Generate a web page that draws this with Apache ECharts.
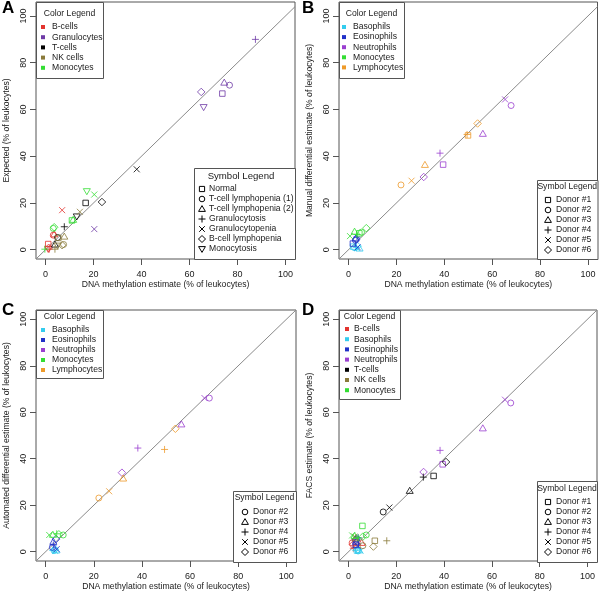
<!DOCTYPE html>
<html><head><meta charset="utf-8">
<script src="https://cdn.jsdelivr.net/npm/echarts@6/dist/echarts.min.js"></script>
<style>html,body{margin:0;padding:0;background:#fff}#c{width:600px;height:592px}</style>
</head><body><div id="c"></div><script>
const FONT = '"Liberation Sans", Arial, Helvetica, sans-serif';
const TICKS = [0, 20, 40, 60, 80, 100];
const DIAG = [-4, 104];
const COLORS = {
  'B-cells': '#E3342F', 'Granulocytes': '#6E3AA6', 'T-cells': '#000000', 'NK cells': '#8A7A3A',
  'Monocytes': '#33DD33', 'Basophils': '#33CCEE', 'Eosinophils': '#2030C8', 'Neutrophils': '#9A3FD0',
  'Lymphocytes': '#EE9A2A'
};

// ---------- Panel A ----------
const A_samples = ['Normal', 'T-cell lymphopenia (1)', 'T-cell lymphopenia (2)', 'Granulocytosis', 'Granulocytopenia', 'B-cell lymphopenia', 'Monocytosis'];
const A_shapes = ['square', 'circle', 'triangle', 'plus', 'cross', 'diamond', 'invtri'];
const A_cells = ['B-cells', 'Granulocytes', 'T-cells', 'NK cells', 'Monocytes'];
const A_Bcells = [[1.1, 2.4], [3.2, 6.2], [3.6, 6.8], [1.5, 0.2], [6.9, 16.9], [1.3, 0.8], [1.1, 0.1]];
const A_Granulocytes = [[73.7, 66.8], [76.7, 70.4], [74.5, 71.7], [87.5, 90.0], [20.3, 8.8], [64.9, 67.5], [65.9, 60.8]];
const A_Tcells = [[16.7, 20.0], [5.0, 5.2], [3.9, 2.4], [7.8, 9.8], [38.0, 34.4], [23.5, 20.4], [13.0, 14.0]];
const A_NKcells = [[5.3, 5.0], [7.5, 2.2], [7.8, 5.8], [3.9, 0.2], [14.3, 16.2], [6.9, 1.9], [5.0, 1.5]];
const A_Monocytes = [[11.0, 12.5], [3.2, 9.1], [11.5, 13.0], [-0.3, 0.2], [20.3, 23.6], [3.6, 9.6], [17.2, 24.8]];

// ---------- Panel B ----------
const B_samples = ['Donor #1', 'Donor #2', 'Donor #3', 'Donor #4', 'Donor #5', 'Donor #6'];
const B_shapes = ['square', 'circle', 'triangle', 'plus', 'cross', 'diamond'];
const B_cells = ['Basophils', 'Eosinophils', 'Neutrophils', 'Monocytes', 'Lymphocytes'];
const B_Basophils = [[1.9, 1.3], [2.5, 0.8], [4.6, 0.7], [3.2, 0.9], [3.5, 0.7], [3.8, 1.5]];
const B_Eosinophils = [[1.8, 2.6], [2.9, 4.0], [3.0, 5.0], [3.5, 5.4], [3.8, 1.0], [3.2, 4.5]];
const B_Neutrophils = [[39.5, 36.4], [67.9, 61.7], [56.1, 49.8], [38.2, 41.3], [65.4, 64.3], [31.4, 31.1]];
const B_Monocytes = [[4.5, 7.0], [5.4, 7.5], [2.5, 7.9], [3.5, 6.5], [0.6, 5.8], [7.4, 9.2]];
const B_Lymphocytes = [[49.9, 48.9], [21.9, 27.7], [31.9, 36.5], [49.5, 49.3], [26.3, 29.5], [53.9, 54.0]];

// ---------- Panel C ----------
const C_samples = ['Donor #2', 'Donor #3', 'Donor #4', 'Donor #5', 'Donor #6'];
const C_shapes = ['circle', 'triangle', 'plus', 'cross', 'diamond'];
const C_cells = ['Basophils', 'Eosinophils', 'Neutrophils', 'Monocytes', 'Lymphocytes'];
const C_Basophils = [[3.5, 0.5], [4.5, 0.8], [3.0, 0.5], [4.0, 0.3], [3.8, 1.0]];
const C_Eosinophils = [[2.8, 1.9], [3.2, 4.5], [3.2, 2.9], [4.6, 1.1], [4.3, 5.4]];
const C_Neutrophils = [[68.0, 66.1], [56.4, 55.0], [38.3, 44.6], [66.0, 66.1], [31.7, 34.0]];
const C_Monocytes = [[7.3, 7.2], [3.0, 7.5], [4.6, 7.7], [1.5, 7.2], [5.5, 7.5]];
const C_Lymphocytes = [[22.1, 23.1], [32.2, 31.7], [49.4, 44.0], [26.4, 26.0], [53.9, 52.9]];

// ---------- Panel D ----------
const D_samples = ['Donor #1', 'Donor #2', 'Donor #3', 'Donor #4', 'Donor #5', 'Donor #6'];
const D_shapes = ['square', 'circle', 'triangle', 'plus', 'cross', 'diamond'];
const D_cells = ['B-cells', 'Basophils', 'Eosinophils', 'Neutrophils', 'T-cells', 'NK cells', 'Monocytes'];
const D_Bcells = [[3.0, 4.0], [1.5, 3.8], [5.5, 4.0], [2.0, 1.5], [4.0, 2.0], [1.8, 3.0]];
const D_Basophils = [[3.5, 0.5], [4.0, 0.3], [4.5, 0.8], [3.0, 0.6], [5.0, 0.4], [3.8, 1.0]];
const D_Eosinophils = [[3.0, 3.0], [3.5, 5.5], [3.2, 4.5], [4.0, 6.0], [3.8, 2.5], [3.0, 5.0]];
const D_Neutrophils = [[39.4, 37.6], [67.9, 64.0], [56.2, 53.3], [38.3, 43.6], [65.5, 65.4], [31.4, 34.3]];
const D_Tcells = [[35.6, 32.6], [14.5, 17.1], [25.6, 26.4], [31.3, 32.1], [17.1, 19.0], [40.8, 38.6]];
const D_NKcells = [[11.0, 4.7], [6.0, 2.6], [3.0, 6.0], [16.0, 4.7], [2.5, 6.5], [10.4, 2.2]];
const D_Monocytes = [[5.8, 11.1], [7.4, 7.2], [2.5, 7.0], [4.0, 6.0], [1.5, 7.0], [6.0, 6.5]];

const X_NAME = 'DNA methylation estimate (% of leukocytes)';

const panels = [
  { letter: 'A', lx: 2, ly: 0, grid: { left: 36, top: 2, width: 259, height: 257 }, yMax: 106,
    yName: 'Expected (% of leukocytes)', xName: X_NAME,
    cells: A_cells, shapes: A_shapes, samples: A_samples,
    values: [A_Bcells, A_Granulocytes, A_Tcells, A_NKcells, A_Monocytes],
    cl: { x: 36, y: 2, w: 67, h: 76, ty: 14, iy: 27, dy: 10.2, mx: 43, tx: 52 },
    sl: { x: 194, y: 168, w: 101, h: 91, ty: 176, tcx: 241, tfs: 9.6, iy: 189, dy: 10, mx: 202, tx: 209 } },
  { letter: 'B', lx: 302, ly: 0, grid: { left: 339, top: 2, width: 258.5, height: 257 }, yMax: 106,
    yName: 'Manual differential estimate (% of leukocytes)', xName: X_NAME,
    cells: B_cells, shapes: B_shapes, samples: B_samples,
    values: [B_Basophils, B_Eosinophils, B_Neutrophils, B_Monocytes, B_Lymphocytes],
    cl: { x: 339, y: 2, w: 65, h: 76, ty: 14, iy: 27, dy: 10.1, mx: 344, tx: 353 },
    sl: { x: 537, y: 180, w: 60.5, h: 79, ty: 187, iy: 200, dy: 10, mx: 548, tx: 556 } },
  { letter: 'C', lx: 2, ly: 302, grid: { left: 36, top: 310, width: 260, height: 252 }, yMax: 104,
    yName: 'Automated differential estimate (% of leukocytes)', xName: 'DNA methylation estimate (% of leukocytes)',
    cells: C_cells, shapes: C_shapes, samples: C_samples,
    values: [C_Basophils, C_Eosinophils, C_Neutrophils, C_Monocytes, C_Lymphocytes],
    cl: { x: 36, y: 310, w: 67, h: 68, ty: 317, iy: 330, dy: 10, mx: 43, tx: 52 },
    sl: { x: 233, y: 491, w: 63, h: 71, ty: 498, iy: 512, dy: 10, mx: 245, tx: 253 } },
  { letter: 'D', lx: 302, ly: 302, grid: { left: 339, top: 310, width: 258, height: 252 }, yMax: 104,
    yName: 'FACS estimate (% of leukocytes)', xName: X_NAME,
    cells: D_cells, shapes: D_shapes, samples: D_samples,
    values: [D_Bcells, D_Basophils, D_Eosinophils, D_Neutrophils, D_Tcells, D_NKcells, D_Monocytes],
    cl: { x: 339, y: 310, w: 61, h: 89, ty: 317, iy: 329, dy: 10.2, mx: 347, tx: 354 },
    sl: { x: 537, y: 481, w: 60, h: 81, ty: 489, iy: 502, dy: 10, mx: 548, tx: 556 } }
];

const SYM = {
  square: { symbol: 'rect', size: 5.5 },
  circle: { symbol: 'circle', size: 6 },
  triangle: { symbol: 'path://M5,0L10,8.66L0,8.66Z', size: 7 },
  plus: { symbol: 'path://M5,0L5,10M0,5L10,5', size: 7 },
  cross: { symbol: 'path://M0,0L10,10M10,0L0,10', size: 6 },
  diamond: { symbol: 'diamond', size: 7.5 },
  invtri: { symbol: 'path://M0,0L10,0L5,8.66Z', size: 7 }
};

const TXT = '#1a1a1a';
const FRAME = '#555';
const FS = 8.6;

const grids = [], xAxes = [], yAxes = [], series = [], graphic = [];

function legendMarker(shape, cx, cy) {
  const st = { fill: 'none', stroke: '#000', lineWidth: 1 };
  const r = 2.6;
  switch (shape) {
    case 'square': return [{ type: 'rect', shape: { x: cx - r, y: cy - r, width: 2 * r, height: 2 * r }, style: st }];
    case 'circle': return [{ type: 'circle', shape: { cx: cx, cy: cy, r: 2.8 }, style: st }];
    case 'triangle': return [{ type: 'polygon', shape: { points: [[cx, cy - 3.4], [cx + 3.4, cy + 2.4], [cx - 3.4, cy + 2.4]] }, style: st }];
    case 'invtri': return [{ type: 'polygon', shape: { points: [[cx, cy + 3.4], [cx + 3.4, cy - 2.4], [cx - 3.4, cy - 2.4]] }, style: st }];
    case 'diamond': return [{ type: 'polygon', shape: { points: [[cx, cy - 3.5], [cx + 3.5, cy], [cx, cy + 3.5], [cx - 3.5, cy]] }, style: st }];
    case 'plus': return [
      { type: 'line', shape: { x1: cx - 3.5, y1: cy, x2: cx + 3.5, y2: cy }, style: st },
      { type: 'line', shape: { x1: cx, y1: cy - 3.5, x2: cx, y2: cy + 3.5 }, style: st }];
    case 'cross': return [
      { type: 'line', shape: { x1: cx - 2.8, y1: cy - 2.8, x2: cx + 2.8, y2: cy + 2.8 }, style: st },
      { type: 'line', shape: { x1: cx + 2.8, y1: cy - 2.8, x2: cx - 2.8, y2: cy + 2.8 }, style: st }];
  }
  return [];
}

panels.forEach((p, i) => {
  grids.push(Object.assign({ show: true, borderColor: FRAME, borderWidth: 1, backgroundColor: 'transparent', containLabel: false }, p.grid));
  xAxes.push({
    gridIndex: i, type: 'value', min: -4, max: 104,
    name: p.xName, nameLocation: 'middle', nameGap: 21,
    nameTextStyle: { fontSize: FS, color: TXT, fontFamily: FONT },
    axisLine: { show: false, onZero: false },
    axisTick: { show: true, inside: false, length: 6, lineStyle: { color: FRAME }, customValues: TICKS },
    axisLabel: { margin: 11, fontSize: 9, color: TXT, fontFamily: FONT, customValues: TICKS },
    splitLine: { show: false }
  });
  yAxes.push({
    gridIndex: i, type: 'value', min: -4, max: p.yMax,
    name: p.yName, nameLocation: 'middle', nameGap: 25, nameRotate: 90,
    nameTextStyle: { fontSize: FS, color: TXT, fontFamily: FONT },
    axisLine: { show: false, onZero: false },
    axisTick: { show: true, inside: false, length: 6, lineStyle: { color: FRAME }, customValues: TICKS },
    axisLabel: { rotate: 90, margin: 8, fontSize: 9, color: TXT, fontFamily: FONT, customValues: TICKS },
    splitLine: { show: false }
  });
  series.push({
    type: 'line', xAxisIndex: i, yAxisIndex: i, data: DIAG.map(v => [v, v]), clip: true,
    symbol: 'none', silent: true, lineStyle: { color: '#8a8a8a', width: 1 }, z: 1
  });
  p.cells.forEach((cell, ci) => {
    const col = COLORS[cell];
    const vals = p.values[ci];
    series.push({
      type: 'scatter', name: cell, xAxisIndex: i, yAxisIndex: i, symbolKeepAspect: true, z: 3,
      data: vals.map((v, si) => ({
        value: v, symbol: SYM[p.shapes[si]].symbol, symbolSize: SYM[p.shapes[si]].size,
        itemStyle: { color: 'transparent', borderColor: col, borderWidth: 1 }
      })),
      itemStyle: { color: 'transparent', borderColor: col, borderWidth: 1 }
    });
  });
  graphic.push({ type: 'text', left: p.lx, top: p.ly, z: 100,
    style: { text: p.letter, font: 'bold 17px ' + FONT, fill: '#000' } });
  const cl = p.cl;
  graphic.push({ type: 'rect', z: 100, shape: { x: cl.x + 0.5, y: cl.y + 0.5, width: cl.w, height: cl.h },
    style: { fill: '#fff', stroke: FRAME, lineWidth: 1 } });
  graphic.push({ type: 'text', z: 101, x: cl.x + cl.w / 2, y: cl.ty,
    style: { text: 'Color Legend', font: FS + 'px ' + FONT, fill: TXT, align: 'center', verticalAlign: 'middle' } });
  p.cells.forEach((cell, ci) => {
    const y = cl.iy + ci * cl.dy;
    graphic.push({ type: 'rect', z: 101, shape: { x: cl.mx - 2, y: y - 2, width: 4, height: 4 }, style: { fill: COLORS[cell] } });
    graphic.push({ type: 'text', z: 101, x: cl.tx, y: y,
      style: { text: cell, font: FS + 'px ' + FONT, fill: TXT, align: 'left', verticalAlign: 'middle' } });
  });
  const sl = p.sl;
  graphic.push({ type: 'rect', z: 100, shape: { x: sl.x + 0.5, y: sl.y + 0.5, width: sl.w, height: sl.h },
    style: { fill: '#fff', stroke: FRAME, lineWidth: 1 } });
  graphic.push({ type: 'text', z: 101, x: sl.tcx || (sl.x + sl.w / 2), y: sl.ty,
    style: { text: 'Symbol Legend', font: (sl.tfs || FS) + 'px ' + FONT, fill: TXT, align: 'center', verticalAlign: 'middle' } });
  p.samples.forEach((s, si) => {
    const y = sl.iy + si * sl.dy;
    legendMarker(p.shapes[si], sl.mx, y).forEach(g => { g.z = 101; graphic.push(g); });
    graphic.push({ type: 'text', z: 101, x: sl.tx, y: y,
      style: { text: s, font: FS + 'px ' + FONT, fill: TXT, align: 'left', verticalAlign: 'middle' } });
  });
});

const chart = echarts.init(document.getElementById('c'), null, { renderer: 'canvas' });
chart.setOption({
  animation: false, backgroundColor: '#fff',
  textStyle: { fontFamily: FONT },
  grid: grids, xAxis: xAxes, yAxis: yAxes, series: series, graphic: graphic
});
</script></body></html>
